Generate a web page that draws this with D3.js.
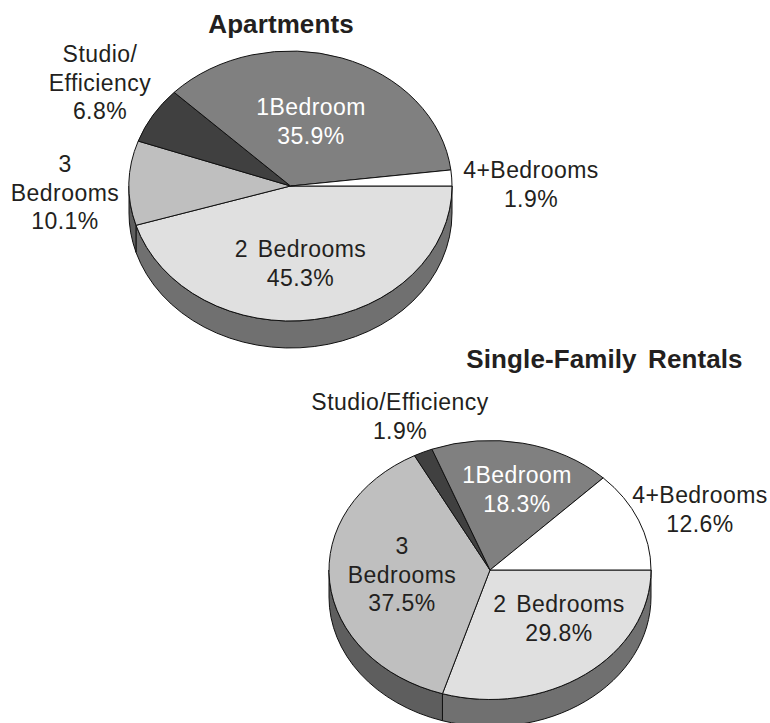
<!DOCTYPE html>
<html>
<head>
<meta charset="utf-8">
<script src="https://cdn.jsdelivr.net/npm/d3@7/dist/d3.min.js"></script>
<style>
  html, body { margin: 0; padding: 0; background: #fff; }
  svg { display: block; }
  text { font-family: "Liberation Sans", Arial, sans-serif; fill: #231f20; text-anchor: middle; }
  .label { font-size: 23px; letter-spacing: 0.45px; word-spacing: 3px; }
  .title { font-size: 26px; font-weight: bold; letter-spacing: 0.1px; word-spacing: 4px; }
</style>
</head>
<body>
<svg id="chart"></svg>
<script>
// Clockwise from 3 o'clock, same order as the slices in the picture
const categories = ['2 Bedrooms', '3 Bedrooms', 'Studio/Efficiency', '1Bedroom', '4+Bedrooms'];
const apartmentValues = [45.3, 10.1, 6.8, 35.9, 1.9];
const singleFamilyValues = [29.8, 37.5, 1.9, 18.3, 12.6];

const sliceColors = ['#e0e0e0', '#bfbfbf', '#404040', '#808080', '#ffffff'];
const wallColors = ['#707070', '#5e5e5e', '#5e5e5e', '#707070', '#707070'];

const width = 770, height = 723;

const svg = d3.select('#chart')
    .attr('width', width)
    .attr('height', height);

const color = d3.scaleOrdinal().domain(categories).range(sliceColors);
const wallColor = d3.scaleOrdinal().domain(categories).range(wallColors);

function drawPie(values, cfg) {
    const pie = d3.pie()
        .sort(null)
        .startAngle(Math.PI / 2)
        .endAngle(Math.PI / 2 + 2 * Math.PI)
        .value(d => d.value);
    const arc = d3.arc().innerRadius(0).outerRadius(cfg.rx);

    const slices = pie(categories.map((c, i) => ({ key: c, value: values[i] })));

    // The whole pie is a circle squashed in y, so the stroke must not scale with it
    const sy = cfg.ry / cfg.rx;
    const g = svg.append('g')
        .attr('transform', `translate(${cfg.cx}, ${cfg.cy}) scale(1, ${sy})`);

    // Side wall, only for the part of each slice in the front half
    const wallPath = d => {
        const a0 = Math.max(d.startAngle - Math.PI / 2, 0);
        const a1 = Math.min(d.endAngle - Math.PI / 2, Math.PI);
        if (a1 <= a0) return null;
        const dz = cfg.depth / sy;
        const p = d3.path();
        p.arc(0, 0, cfg.rx, a0, a1);
        p.arc(0, dz, cfg.rx, a1, a0, true);
        p.closePath();
        return p.toString();
    };

    g.selectAll('path.wall')
        .data(slices.filter(d => wallPath(d)))
        .join('path')
            .attr('class', 'wall')
            .attr('d', wallPath)
            .attr('fill', d => wallColor(d.data.key))
            .attr('stroke', '#111')
            .attr('stroke-width', 1)
            .attr('vector-effect', 'non-scaling-stroke');

    g.selectAll('path.slice')
        .data(slices)
        .join('path')
            .attr('class', 'slice')
            .attr('d', arc)
            .attr('fill', d => color(d.data.key))
            .attr('stroke', '#111')
            .attr('stroke-width', 1)
            .attr('vector-effect', 'non-scaling-stroke');

    svg.append('text')
        .attr('class', 'title')
        .attr('x', cfg.title.x)
        .attr('y', cfg.title.y)
        .text(cfg.title.text);

    cfg.labels.forEach(l => {
        const t = svg.append('text')
            .attr('class', 'label')
            .attr('x', l.x)
            .attr('y', l.y)
            .style('fill', l.fill || null);
        l.lines.forEach((line, i) => {
            t.append('tspan')
                .attr('x', l.x)
                .attr('y', l.y + i * 28.5)
                .text(line);
        });
    });
}

drawPie(apartmentValues, {
    cx: 290.5, cy: 186, rx: 161.5, ry: 135, depth: 27,
    title: { text: 'Apartments', x: 281, y: 33 },
    labels: [
        { lines: ['Studio/', 'Efficiency', '6.8%'], x: 100, y: 62 },
        { lines: ['1Bedroom', '35.9%'], x: 311, y: 115, fill: '#fff' },
        { lines: ['4+Bedrooms', '1.9%'], x: 531, y: 178 },
        { lines: ['3', 'Bedrooms', '10.1%'], x: 65, y: 172 },
        { lines: ['2 Bedrooms', '45.3%'], x: 300.5, y: 257 }
    ]
});

drawPie(singleFamilyValues, {
    cx: 490, cy: 570, rx: 161, ry: 129.5, depth: 27,
    title: { text: 'Single-Family Rentals', x: 604.5, y: 368 },
    labels: [
        { lines: ['Studio/Efficiency', '1.9%'], x: 400, y: 410 },
        { lines: ['1Bedroom', '18.3%'], x: 517, y: 483, fill: '#fff' },
        { lines: ['4+Bedrooms', '12.6%'], x: 700, y: 503 },
        { lines: ['3', 'Bedrooms', '37.5%'], x: 402, y: 554 },
        { lines: ['2 Bedrooms', '29.8%'], x: 559, y: 612 }
    ]
});
</script>
</body>
</html>
